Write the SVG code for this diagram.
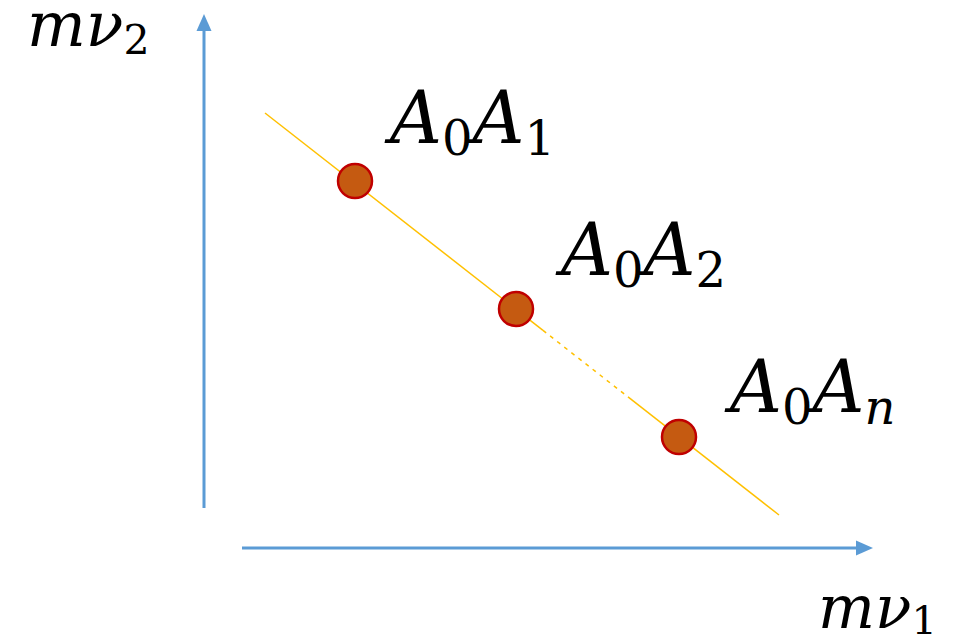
<svg xmlns="http://www.w3.org/2000/svg" width="961" height="637" viewBox="0 0 961 637">
<style>
.axis{stroke:#5B9BD5;stroke-width:3;fill:none}
.head{fill:#5B9BD5}
.trend{stroke:#FFC000;stroke-width:1.5;fill:none}
.pt{fill:#C55A11;stroke:#C00000;stroke-width:2.5}
.lbl{fill:#000}
.it{font-style:italic}
</style>
<rect width="961" height="637" fill="#fff"/>
<g id="connectors">
<line class="axis" x1="204" y1="508" x2="204" y2="28"/>
<polygon class="head" points="204,14 196.5,31 211.5,31"/>
<line class="axis" x1="242" y1="548" x2="858" y2="548"/>
<polygon class="head" points="873,548 856,540.5 856,555.5"/>
<line class="trend" x1="265" y1="113" x2="543" y2="330.4"/>
<line class="trend" x1="543" y1="330.4" x2="628" y2="396.9" stroke-dasharray="4,5"/>
<line class="trend" x1="628" y1="396.9" x2="779" y2="515"/>
</g>
<g id="p1"><circle class="pt" cx="355" cy="181" r="17"/></g>
<g id="p2"><circle class="pt" cx="516" cy="309" r="17"/></g>
<g id="p3"><circle class="pt" cx="679" cy="437" r="17"/></g>
<g id="label-y"><text class="lbl" font-family="'DejaVu Serif', serif" x="27" y="46" font-size="62"><tspan class="it">mν</tspan><tspan font-size="41" dy="8">2</tspan></text></g>
<g id="label-x"><text class="lbl" font-family="'DejaVu Serif', serif" x="818" y="628" font-size="60"><tspan class="it">mν</tspan><tspan font-size="40" dy="6">1</tspan></text></g>
<g id="label-1"><text class="lbl" font-family="'DejaVu Serif', serif" x="390" y="143" font-size="72"><tspan class="it">A</tspan><tspan font-size="48" dy="12">0</tspan><tspan class="it" dy="-12">A</tspan><tspan font-size="48" dy="12">1</tspan></text></g>
<g id="label-2"><text class="lbl" font-family="'DejaVu Serif', serif" x="561" y="275" font-size="72"><tspan class="it">A</tspan><tspan font-size="48" dy="12">0</tspan><tspan class="it" dy="-12">A</tspan><tspan font-size="48" dy="12">2</tspan></text></g>
<g id="label-3"><text class="lbl" font-family="'DejaVu Serif', serif" x="730" y="412" font-size="72"><tspan class="it">A</tspan><tspan font-size="48" dy="12">0</tspan><tspan class="it" dy="-12">A</tspan><tspan class="it" font-size="48" dy="12">n</tspan></text></g>
</svg>
